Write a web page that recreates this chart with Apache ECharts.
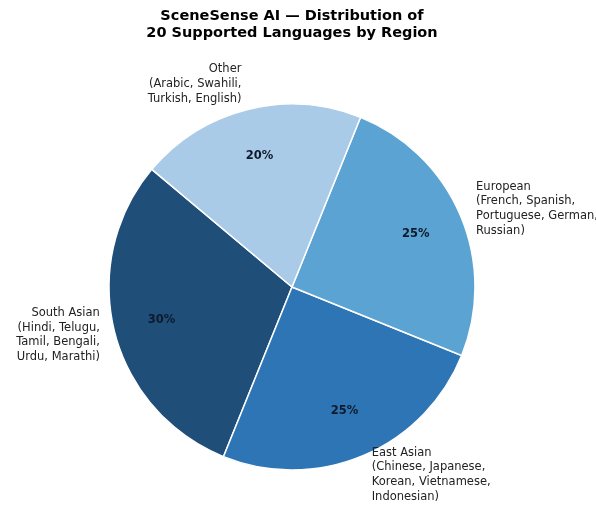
<!DOCTYPE html>
<html>
<head>
<meta charset="utf-8">
<script src="https://cdn.jsdelivr.net/npm/echarts@6/dist/echarts.min.js"></script>
<style>
    html, body {margin: 0; padding: 0; background: #fff;}
    #chart {width: 596px; height: 508px;}
</style>
</head>
<body>
<div id="chart"></div>
<script>
const regions = ['South Asian', 'East Asian', 'European', 'Other'];
const shares = [30, 25, 25, 20];
const languages = [
    'Hindi, Telugu,\nTamil, Bengali,\nUrdu, Marathi',
    'Chinese, Japanese,\nKorean, Vietnamese,\nIndonesian',
    'French, Spanish,\nPortuguese, German,\nRussian',
    'Arabic, Swahili,\nTurkish, English',
];
const colors = ['#1f4e79', '#2e75b6', '#5ba3d3', '#a9cbe8'];
// how far past the rim each name label sits
const labelGaps = [15, 21, 17, 26];

const font = 'DejaVu Sans';
const center = [292, 287];
const radius = 183;
const startAngle = 140;

const data = regions.map((name, i) => ({
    name,
    value: shares[i],
    langs: languages[i],
    itemStyle: {color: colors[i]},
    labelLine: {show: false, length: labelGaps[i], length2: 0},
}));

const chart = echarts.init(document.getElementById('chart'), null, {renderer: 'canvas'});
chart.setOption({
    animation: false,
    title: {
        text: 'SceneSense AI \u2014 Distribution of\n20 Supported Languages by Region',
        left: center[0] - 5,  // the default 5px padding is added back on
        textAlign: 'center',
        top: 3,
        textStyle: {fontFamily: font, fontSize: 14.5, fontWeight: 'bold', color: '#000', lineHeight: 17},
    },
    series: [{
        type: 'pie',
        center,
        radius: [0, radius],
        startAngle,
        clockwise: false,
        avoidLabelOverlap: false,
        itemStyle: {borderColor: '#fff', borderWidth: 1.5},
        emphasis: {disabled: true},
        label: {
            position: 'outside',
            fontFamily: font,
            fontSize: 11.5,
            lineHeight: 14.7,
            color: '#222',
            distanceToLabelLine: 0,
            formatter: p => `${p.name}\n(${p.data.langs})`,
        },
        labelLine: {show: false},
        data,
    }, {
        // transparent ring, only there to put the percentages at ~0.72 r
        type: 'pie',
        center,
        radius: [80, radius],
        startAngle,
        clockwise: false,
        silent: true,
        itemStyle: {color: 'transparent', borderWidth: 0},
        label: {
            position: 'inside',
            fontFamily: font,
            fontSize: 11.5,
            fontWeight: 'bold',
            color: '#0d1a2b',
            formatter: p => `${p.value}%`,
        },
        labelLine: {show: false},
        data: regions.map((name, i) => ({name, value: shares[i]})),
    }],
});
</script>
</body>
</html>
